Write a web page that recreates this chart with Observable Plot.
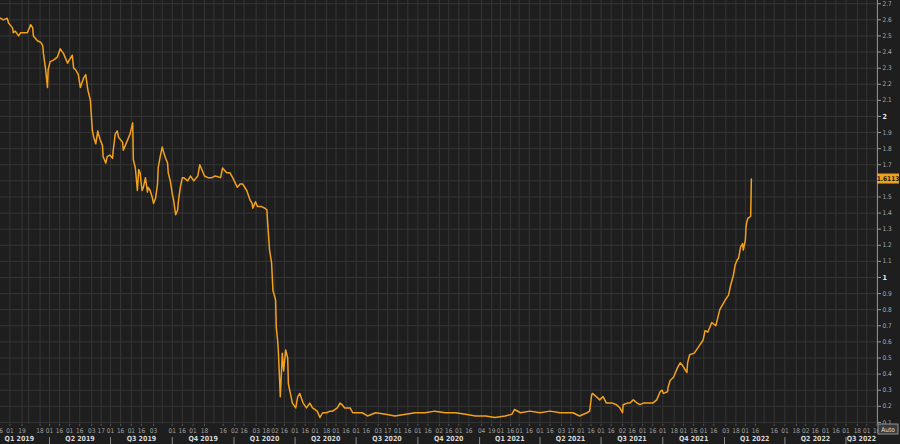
<!DOCTYPE html>
<html><head><meta charset="utf-8">
<script src="https://cdn.jsdelivr.net/npm/d3@7"></script>
<script src="https://cdn.jsdelivr.net/npm/@observablehq/plot@0.6"></script>
<style>
html,body{margin:0;padding:0;background:#1e1e1e;overflow:hidden}
#chart{position:relative;width:900px;height:444px}
</style></head><body><div id="chart"></div>
<script>
const dates = [
"2019-01-18","2019-01-22","2019-01-28","2019-01-30","2019-02-05","2019-02-06","2019-02-09","2019-02-14","2019-02-17","2019-02-21",
"2019-02-27","2019-03-04","2019-03-07","2019-03-08","2019-03-14","2019-03-19","2019-03-22","2019-03-23","2019-03-26","2019-03-29",
"2019-03-30","2019-04-02","2019-04-07","2019-04-13","2019-04-17","2019-04-22","2019-04-28","2019-04-29","2019-05-05","2019-05-07",
"2019-05-10","2019-05-14","2019-05-17","2019-05-22","2019-05-25","2019-05-28","2019-05-29","2019-06-01","2019-06-02","2019-06-04",
"2019-06-06","2019-06-09","2019-06-12","2019-06-13","2019-06-16","2019-06-19","2019-06-20","2019-06-24","2019-06-26","2019-06-30",
"2019-07-04","2019-07-05","2019-07-08","2019-07-11","2019-07-13","2019-07-19","2019-07-20","2019-07-26","2019-07-30","2019-08-03",
"2019-08-04","2019-08-07","2019-08-10","2019-08-12","2019-08-14","2019-08-17","2019-08-19","2019-08-22","2019-08-25","2019-08-26",
"2019-08-29","2019-09-01","2019-09-03","2019-09-06","2019-09-09","2019-09-10","2019-09-13","2019-09-16","2019-09-18","2019-09-21",
"2019-09-24","2019-09-25","2019-09-28","2019-10-01","2019-10-03","2019-10-06","2019-10-09","2019-10-10","2019-10-13","2019-10-16",
"2019-10-18","2019-10-24","2019-10-28","2019-11-02","2019-11-08","2019-11-11","2019-11-14","2019-11-18","2019-11-23","2019-11-29",
"2019-12-04","2019-12-12","2019-12-15","2019-12-21","2019-12-26","2019-12-30","2020-01-06","2020-01-10","2020-01-14","2020-01-20",
"2020-01-25","2020-01-28","2020-01-29","2020-02-02","2020-02-05","2020-02-11","2020-02-16","2020-02-19","2020-02-20","2020-02-23",
"2020-02-26","2020-02-28","2020-03-03","2020-03-04","2020-03-06","2020-03-07","2020-03-10","2020-03-13","2020-03-15","2020-03-18",
"2020-03-21","2020-03-22","2020-03-25","2020-03-28","2020-04-02","2020-04-05","2020-04-08","2020-04-13","2020-04-18","2020-04-23",
"2020-04-27","2020-05-04","2020-05-08","2020-05-12","2020-05-18","2020-05-23","2020-05-27","2020-06-03","2020-06-07","2020-06-10",
"2020-06-14","2020-06-22","2020-06-26","2020-07-03","2020-07-10","2020-07-18","2020-07-30","2020-08-14","2020-08-28","2020-09-13",
"2020-09-27","2020-10-12","2020-10-26","2020-11-11","2020-11-26","2020-12-11","2020-12-26","2021-01-10","2021-01-24","2021-02-08",
"2021-02-18","2021-02-22","2021-03-03","2021-03-17","2021-04-01","2021-04-16","2021-05-01","2021-05-11","2021-05-20","2021-05-30",
"2021-06-10","2021-06-14","2021-06-17","2021-06-18","2021-06-24","2021-06-29","2021-07-04","2021-07-09","2021-07-14","2021-07-18",
"2021-07-24","2021-07-29","2021-08-02","2021-08-03","2021-08-09","2021-08-13","2021-08-18","2021-08-24","2021-08-28","2021-09-02",
"2021-09-07","2021-09-11","2021-09-16","2021-09-22","2021-09-27","2021-09-30","2021-10-02","2021-10-08","2021-10-09","2021-10-12",
"2021-10-17","2021-10-20","2021-10-23","2021-10-27","2021-10-31","2021-11-06","2021-11-07","2021-11-10","2021-11-17","2021-11-25",
"2021-11-30","2021-12-03","2021-12-07","2021-12-13","2021-12-19","2021-12-25","2022-01-02","2022-01-07","2022-01-10","2022-01-14",
"2022-01-17","2022-01-20","2022-01-22","2022-01-25","2022-01-28","2022-01-29","2022-02-01","2022-02-02","2022-02-03","2022-02-05",
"2022-02-06","2022-02-09","2022-02-10"
];
const values = [
2.61,2.60,2.61,2.58,2.55,2.52,2.53,2.50,2.52,2.52,
2.52,2.57,2.55,2.50,2.47,2.46,2.44,2.39,2.30,2.18,
2.29,2.34,2.35,2.37,2.42,2.39,2.33,2.34,2.38,2.30,
2.29,2.26,2.18,2.24,2.26,2.17,2.15,2.10,2.03,1.91,
1.87,1.83,1.91,1.89,1.85,1.82,1.75,1.71,1.75,1.76,
1.74,1.79,1.89,1.91,1.87,1.84,1.79,1.85,1.89,1.96,
1.73,1.68,1.54,1.67,1.65,1.54,1.56,1.62,1.53,1.56,
1.54,1.50,1.46,1.49,1.58,1.68,1.75,1.81,1.78,1.74,
1.71,1.65,1.60,1.52,1.48,1.39,1.42,1.47,1.56,1.62,
1.62,1.60,1.63,1.60,1.63,1.70,1.67,1.63,1.62,1.62,
1.63,1.62,1.68,1.65,1.65,1.62,1.56,1.58,1.58,1.54,
1.48,1.46,1.43,1.47,1.44,1.44,1.43,1.42,1.35,1.17,
1.09,0.92,0.86,0.69,0.61,0.55,0.26,0.53,0.42,0.55,
0.50,0.34,0.28,0.22,0.19,0.26,0.28,0.22,0.19,0.22,
0.19,0.17,0.13,0.16,0.16,0.17,0.17,0.19,0.22,0.21,
0.19,0.19,0.16,0.16,0.16,0.14,0.16,0.15,0.14,0.15,
0.16,0.16,0.17,0.16,0.16,0.15,0.14,0.14,0.13,0.14,
0.15,0.18,0.16,0.17,0.16,0.17,0.16,0.16,0.16,0.14,
0.16,0.17,0.27,0.28,0.26,0.24,0.26,0.22,0.22,0.22,
0.21,0.19,0.16,0.21,0.22,0.22,0.24,0.22,0.21,0.22,
0.22,0.22,0.22,0.24,0.29,0.30,0.28,0.29,0.32,0.36,
0.38,0.41,0.44,0.47,0.45,0.41,0.47,0.52,0.53,0.58,
0.61,0.67,0.66,0.72,0.70,0.80,0.86,0.89,0.95,1.01,
1.08,1.11,1.12,1.19,1.21,1.17,1.23,1.31,1.34,1.37,
1.37,1.38,1.6113
];
const lastLabel = "1.6113";
const yTicks = [0.1,0.2,0.3,0.4,0.5,0.6,0.7,0.8,0.9,1,1.1,1.2,1.3,1.4,1.5,1.6,1.7,1.8,1.9,2,2.1,2.2,2.3,2.4,2.5,2.6,2.7];
const yTicksBold = [1,2];
const yTicksHidden = [1.6]; // covered by the last-value tag in the reference
const tickDates = [
"2019-01-16","2019-02-01","2019-02-19","2019-03-01","2019-03-18","2019-04-01","2019-04-16","2019-05-01","2019-05-16","2019-06-03","2019-06-17",
"2019-07-01","2019-07-16","2019-08-01","2019-08-16","2019-09-03","2019-09-16","2019-10-01","2019-10-16","2019-11-01","2019-11-18","2019-12-02","2019-12-16",
"2020-01-02","2020-01-16","2020-02-03","2020-02-18","2020-03-02","2020-03-16","2020-04-01","2020-04-16","2020-05-01","2020-05-18","2020-06-01","2020-06-16",
"2020-07-01","2020-07-16","2020-08-03","2020-08-17","2020-09-01","2020-09-16","2020-10-01","2020-10-16","2020-11-02","2020-11-16","2020-12-01","2020-12-16",
"2021-01-04","2021-01-19","2021-02-01","2021-02-16","2021-03-01","2021-03-16","2021-04-01","2021-04-16","2021-05-03","2021-05-17","2021-06-01","2021-06-16",
"2021-07-01","2021-07-16","2021-08-02","2021-08-16","2021-09-01","2021-09-16","2021-10-01","2021-10-18","2021-11-01","2021-11-16","2021-12-01","2021-12-16",
"2022-01-03","2022-01-18","2022-02-01","2022-02-16","2022-03-01","2022-03-16","2022-04-01","2022-04-18","2022-05-02","2022-05-16","2022-06-01","2022-06-16",
"2022-07-01","2022-07-18","2022-08-01","2022-08-16"
];
const unlabeledTicks = ["2019-03-01","2019-09-16","2019-12-02","2022-03-01"];
const quarterStarts = ["2019-01-01","2019-04-01","2019-07-01","2019-10-01","2020-01-01","2020-04-01","2020-07-01","2020-10-01",
"2021-01-01","2021-04-01","2021-07-01","2021-10-01","2022-01-01","2022-04-01","2022-07-01","2022-10-01"];
const quarterLabels = ["Q1 2019","Q2 2019","Q3 2019","Q4 2019","Q1 2020","Q2 2020","Q3 2020","Q4 2020",
"Q1 2021","Q2 2021","Q3 2021","Q4 2021","Q1 2022","Q2 2022","Q3 2022"];
const xDomain = ["2019-01-18","2022-08-17"];
const yDomain = [0.087, 2.72];

const parse = d3.utcParse("%Y-%m-%d");
const data = dates.map((d, i) => ({date: parse(d), value: values[i]}));
const x0 = parse(xDomain[0]), x1 = parse(xDomain[1]);
const gridDates = tickDates.map(parse);
const labelDates = tickDates.filter(d => !unlabeledTicks.includes(d)).map(parse);
const qStarts = quarterStarts.map(parse);
const DAY = 864e5;
const quarters = quarterLabels.map((label, i) => {
  const a = +qStarts[i], b = +qStarts[i + 1];
  let mid = a + (b - a) / 2;
  mid = Math.max(mid, +x0 + 17 * DAY);
  mid = Math.min(mid, +x1 - 24 * DAY);
  return {label, pos: new Date(mid)};
});
const yFmt = d => String(Math.round(d * 10) / 10);
const font = "'DejaVu Sans Condensed','DejaVu Sans',sans-serif";

const chart = Plot.plot({
  width: 900, height: 444,
  marginTop: 0, marginRight: 23, marginBottom: 20, marginLeft: 0,
  style: {background: "#1e1e1e", color: "#a8a8a8", fontFamily: font, fontSize: "7px"},
  x: {type: "utc", domain: [x0, x1], axis: null, label: null},
  y: {domain: yDomain, axis: null, label: null},
  marks: [
    Plot.gridY(yTicks, {stroke: "#353535", strokeOpacity: 1}),
    Plot.gridX(gridDates, {stroke: "#353535", strokeOpacity: 1}),
    Plot.ruleX(qStarts.slice(1, -1), {y1: 0.006, y2: -0.04, stroke: "#8a8a8a", strokeWidth: 1}),
    Plot.axisX(labelDates, {anchor: "bottom", label: null, tickSize: 2, tickPadding: 2, stroke: "#555",
      tickFormat: d3.utcFormat("%d"), fontSize: 6.5, fill: "#a0a0a0"}),
    Plot.text(quarters, {x: "pos", text: "label", frameAnchor: "bottom", dy: 16,
      fill: "#d8d8d8", fontWeight: "bold", fontSize: 7}),
    Plot.axisY(yTicks.filter(t => !yTicksBold.includes(t) && !yTicksHidden.includes(t)), {anchor: "right", label: null,
      tickSize: 3, tickPadding: 2, stroke: "#999", tickFormat: yFmt, fontSize: 6.5, fill: "#a8a8a8"}),
    Plot.axisY(yTicksBold, {anchor: "right", label: null, tickSize: 3, tickPadding: 2,
      stroke: "#999", tickFormat: yFmt, fontSize: 7, fontWeight: "bold", fill: "#e8e8e8"}),
    Plot.ruleX([x1], {stroke: "#8a8a8a", strokeWidth: 1}),
    Plot.lineY(data, {x: "date", y: "value", stroke: "#f2a11e", strokeWidth: 1.5, strokeLinejoin: "round"})
  ]
});
document.getElementById("chart").appendChild(chart);

// last-value tag and "Auto" button, positioned with the plot's scales
const ys = chart.scale("y"), xs = chart.scale("x");
const svg = d3.select(chart);
const tx = xs.apply(x1);
const ty = ys.apply(values[values.length - 1]);
const tag = svg.append("g").attr("font-family", font);
tag.append("rect").attr("x", tx).attr("y", ty - 5).attr("width", 22).attr("height", 10).attr("fill", "#f2a11e");
tag.append("text").attr("x", tx + 11).attr("y", ty + 2.3).attr("text-anchor", "middle")
  .attr("font-size", 6.5).attr("font-weight", "bold").attr("fill", "#1a1a1a").text(lastLabel);
const auto = svg.append("g").attr("font-family", font);
auto.append("rect").attr("x", tx + 1).attr("y", 424).attr("width", 20).attr("height", 10)
  .attr("fill", "#3a3a3a").attr("stroke", "#aaa").attr("stroke-width", 0.8);
auto.append("text").attr("x", tx + 11).attr("y", 431.5).attr("text-anchor", "middle")
  .attr("font-size", 6.5).attr("fill", "#e0e0e0").text("Auto");
</script></body></html>
